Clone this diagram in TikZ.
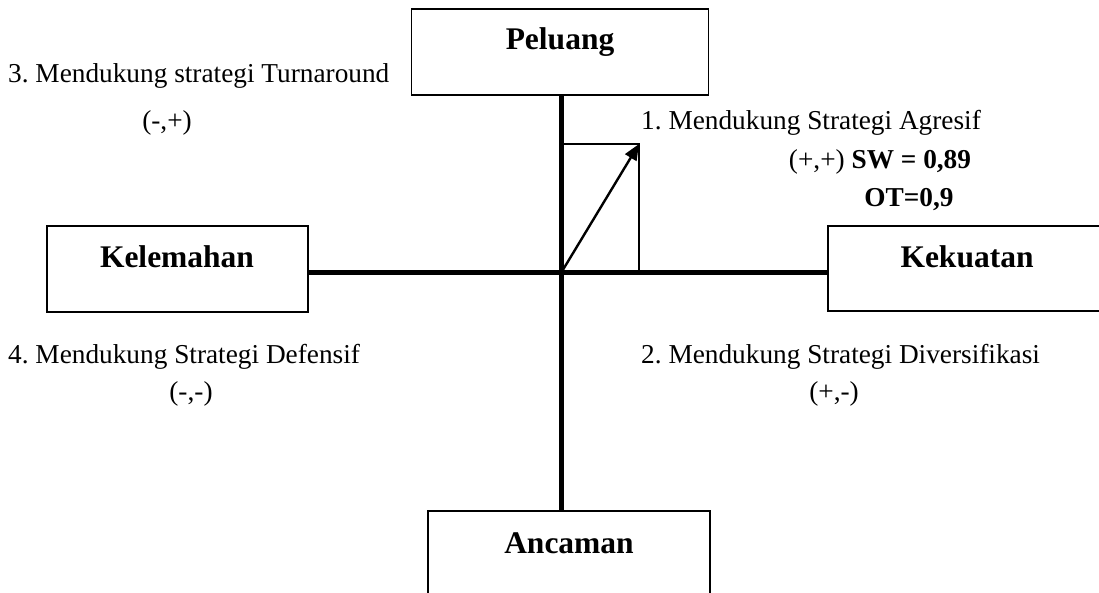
\documentclass[tikz,border=0pt]{standalone}
\usepackage{fontspec}
\setmainfont{Liberation Serif}
\usetikzlibrary{arrows.meta}
\frenchspacing
\begin{document}
\begin{tikzpicture}[x=1pt,y=-1pt,
  box/.style={draw,line width=1.5pt,inner sep=0pt},
  title/.style={font=\fontsize{31.5}{36}\selectfont\bfseries,anchor=center,inner sep=0pt},
  txt/.style={font=\fontsize{27.3}{32}\selectfont,inner sep=0pt,anchor=base west},
  txtc/.style={font=\fontsize{27.3}{32}\selectfont,inner sep=0pt,anchor=base},
  axis/.style={line width=5pt},
  thin/.style={line width=1.2pt}]
\useasboundingbox (0,0) rectangle (1099,593);
% boxes
\node[box,minimum width=297pt,minimum height=86pt] (pel) at (560,52) {};
\node[title] (pelt) at (560,42) {Peluang};
\node[box,minimum width=261pt,minimum height=86pt] (kel) at (177.5,269) {};
\node[title] (kelt) at (177,257) {Kelemahan};
\node[box,minimum width=282pt,minimum height=85pt] (kek) at (969,268.5) {};
\node[title] (kekt) at (967,257) {Kekuatan};
\node[box,minimum width=282pt,minimum height=90pt] (anc) at (569,556) {};
\node[title] (anct) at (569,543) {Ancaman};
% axes
\coordinate (o) at (561,273);
\draw[axis] (pel.south -| o) -- (anc.north -| o);
\draw[axis] (kel.east |- o) -- (kek.west |- o);
% small rectangle and vector
\coordinate (tl) at (561,144);
\coordinate (tr) at (639,144);
\coordinate (br) at (639,273);
\draw[thin] (tl) -- (tr) -- (br);
\draw[line width=2.4pt,-{Triangle[length=16pt,width=13pt]}] (o) -- (tr);
% texts
\node[txt] (t3) at (8,83) {3. Mendukung strategi Turnaround};
\node[txtc] (t3b) at (167,130) {(-,+)};
\node[txt] (t1) at (641,130) {1. Mendukung Strategi Agresif};
\node[txtc] (t1b) at (880,169) {(+,+) \textbf{SW = 0,89}};
\node[txtc] (t1c) at (909,207) {\textbf{OT=0,9}};
\node[txt] (t4) at (8,363) {4. Mendukung Strategi Defensif};
\node[txtc] (t4b) at (191,400) {(-,-)};
\node[txt] (t2) at (641,363) {2. Mendukung Strategi Diversifikasi};
\node[txtc] (t2b) at (834,400) {(+,-)};
\end{tikzpicture}
\end{document}
